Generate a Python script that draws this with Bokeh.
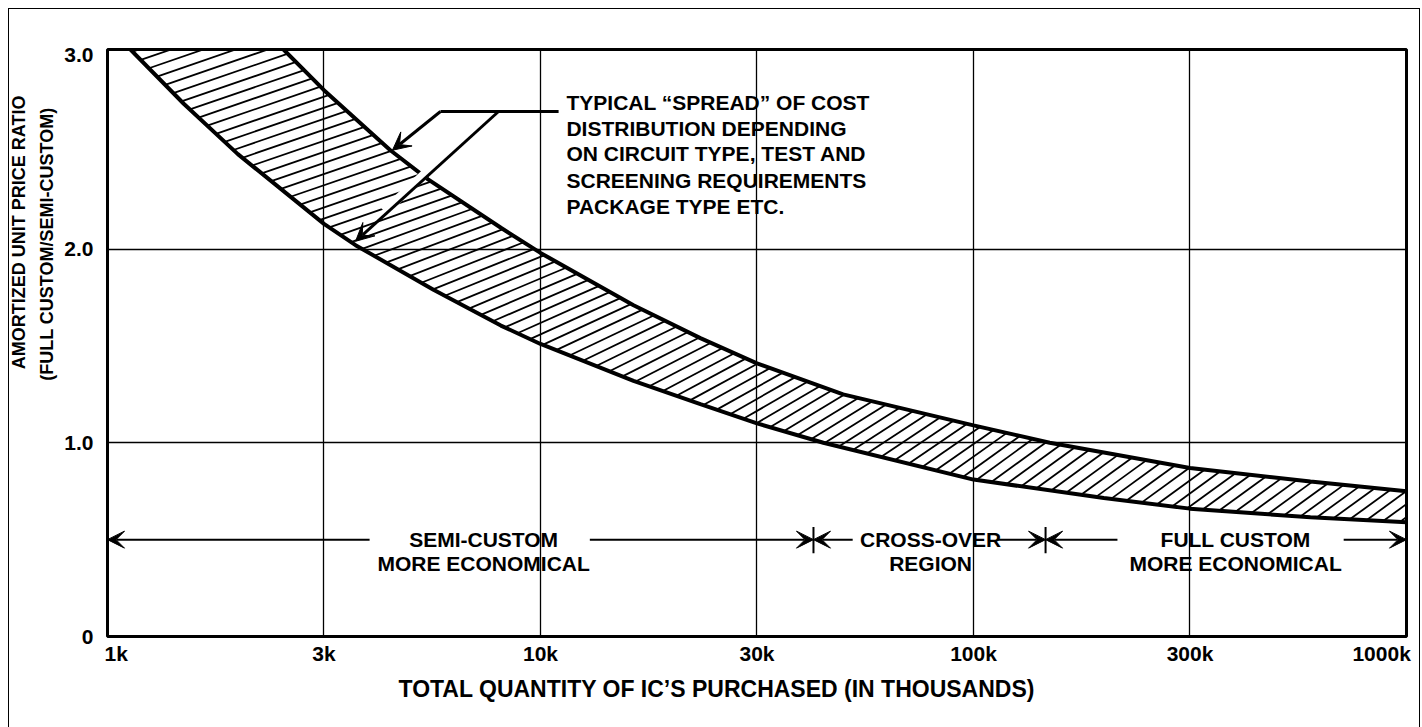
import math
import numpy as np
from bokeh.plotting import figure
from bokeh.models import Range1d, FixedTicker, Label, Arrow, VeeHead, Title, InlineStyleSheet
from bokeh.embed import file_html
from bokeh.resources import INLINE

# ---------------- data (x in thousands of ICs, y = price ratio) ----------------
upper_x = [2.55, 3.162, 4.5, 5.5, 8.1, 10, 16.4, 23.4, 31.62, 50, 100, 150, 316.2, 600, 1000]
upper_y = [3.03, 2.82, 2.51, 2.36, 2.11, 1.98, 1.71, 1.54, 1.41, 1.25, 1.09, 1.00, 0.87, 0.80, 0.75]

lower_x = [1.13, 1.5, 2.0, 3.162, 3.74, 5.66, 8.1, 10, 16.4, 23.4, 31.62, 45, 100, 200, 316.2, 600, 1000]
lower_y = [3.03, 2.75, 2.49, 2.13, 2.02, 1.79, 1.605, 1.51, 1.32, 1.20, 1.10, 1.00, 0.81, 0.715, 0.66, 0.615, 0.59]

x_ticks = [1, 3.162, 10, 31.62, 100, 316.2, 1000]
x_tick_labels = ["1k", "3k", "10k", "30k", "100k", "300k", "1000k"]
y_ticks = [0, 1, 2, 3]
y_tick_labels = ["0", "1.0", "2.0", "3.0"]

x_title = "TOTAL QUANTITY OF IC\u2019S PURCHASED (IN THOUSANDS)"
y_title = ["AMORTIZED UNIT PRICE RATIO", "(FULL CUSTOM/SEMI-CUSTOM)"]

note_lines = ["TYPICAL \u201cSPREAD\u201d OF COST",
              "DISTRIBUTION DEPENDING",
              "ON CIRCUIT TYPE, TEST AND",
              "SCREENING REQUIREMENTS",
              "PACKAGE TYPE ETC."]

region_semi = ["SEMI-CUSTOM", "MORE ECONOMICAL"]
region_cross = ["CROSS-OVER", "REGION"]
region_full = ["FULL CUSTOM", "MORE ECONOMICAL"]

# region boundaries (thousands)
cross_start = 42.7
cross_end = 146.7

FONT = "Liberation Sans"
TXT = "21px"
NB = "\u00a0"

X_LO, X_HI, Y_LO, Y_HI = 1, 1000, 0, 3.03
FRAME_W, FRAME_H = 1299, 587

p = figure(width=1422, height=727, x_axis_type="log",
           x_range=Range1d(X_LO, X_HI), y_range=Range1d(Y_LO, Y_HI),
           output_backend="svg", toolbar_location=None,
           min_border_left=107, min_border_right=16,
           min_border_top=49, min_border_bottom=91)
p.stylesheets = [InlineStyleSheet(css=(
    ":host::after {content: ''; position: absolute; left: 8px; top: 8px;"
    " width: 1412px; height: 740px; border: 1.5px solid black;"
    " box-sizing: border-box; pointer-events: none; z-index: 100;}"))]
p.background_fill_color = "white"
p.border_fill_color = "white"
p.outline_line_color = "black"
p.outline_line_width = 3

# axes
for ax in (p.xaxis[0], p.yaxis[0]):
    ax.axis_line_color = None
    ax.major_tick_in = 0
    ax.major_tick_out = 0
    ax.minor_tick_line_color = None
    ax.major_label_text_font = FONT
    ax.major_label_text_font_style = "bold"
    ax.major_label_text_color = "black"
    ax.major_label_text_font_size = "21px"

p.xaxis.ticker = FixedTicker(ticks=x_ticks)
ov = {t: l for t, l in zip(x_ticks, x_tick_labels)}
ov[x_ticks[0]] = NB * 3 + x_tick_labels[0]
ov[x_ticks[-1]] = x_tick_labels[-1] + NB * 2
p.xaxis.major_label_overrides = ov
p.xaxis.major_label_standoff = 5

p.yaxis.ticker = FixedTicker(ticks=y_ticks)
p.yaxis.major_label_overrides = {t: l for t, l in zip(y_ticks, y_tick_labels)}
p.yaxis.major_label_standoff = 14

p.xgrid.ticker = FixedTicker(ticks=x_ticks[1:-1])
p.ygrid.ticker = FixedTicker(ticks=[1, 2])
for g in (p.xgrid[0], p.ygrid[0]):
    g.grid_line_color = "black"
    g.grid_line_width = 1.3

# axis titles
p.add_layout(Title(text=x_title, align="left", offset=291, standoff=12,
                   text_font=FONT, text_font_style="bold", text_font_size="23px",
                   text_color="black"), "below")
p.add_layout(Title(text=y_title[1], align="right", offset=58, standoff=10,
                   text_font=FONT, text_font_style="bold", text_font_size="18px",
                   text_color="black"), "left")
p.add_layout(Title(text=y_title[0], align="right", offset=46, standoff=2,
                   text_font=FONT, text_font_style="bold", text_font_size="18px",
                   text_color="black"), "left")

# ---- hatching of the band (computed in screen-proportional space) ----
sxs = FRAME_W / (math.log10(X_HI) - math.log10(X_LO))
sys_ = FRAME_H / (Y_HI - Y_LO)
lu = (np.log10(lower_x) - math.log10(X_LO)) * sxs
lv = (np.array(lower_y) - Y_LO) * sys_
uu = (np.log10(upper_x) - math.log10(X_LO)) * sxs
uv = (np.array(upper_y) - Y_LO) * sys_
top_px = (Y_HI - Y_LO) * sys_
right_px = FRAME_W

dense = []
for i in range(len(lu) - 1):
    t = np.linspace(0, 1, 60, endpoint=False)
    dense.append(np.column_stack([lu[i] + t * (lu[i + 1] - lu[i]), lv[i] + t * (lv[i + 1] - lv[i])]))
dense.append(np.array([[lu[-1], lv[-1]]]))
dense = np.vstack(dense)
seg = np.diff(dense, axis=0)
seglen = np.hypot(seg[:, 0], seg[:, 1])
cum = np.concatenate([[0], np.cumsum(seglen)])

SPACING = 10.5
ks = np.arange(0, 500, 0.25)
hx0, hy0, hx1, hy1 = [], [], [], []
s = 3.0
while s < cum[-1]:
    j = min(np.searchsorted(cum, s) - 1, len(seg) - 1)
    j = max(j, 0)
    f = (s - cum[j]) / seglen[j]
    px, py = dense[j] + f * seg[j]
    tx, ty = seg[j] / seglen[j]
    th = math.radians(np.interp(px / sxs, [0.5, 2.0], [19.0, 36.0]))
    dx, dy = math.cos(th), math.sin(th)
    qx = px + ks * dx
    qy = py + ks * dy
    bound = np.minimum(np.interp(qx, uu, uv, left=top_px), top_px)
    out = (qy > bound) | (qx > right_px)
    idx = np.argmax(out) if out.any() else len(ks) - 1
    k = ks[max(idx, 1)]
    hx0.append(10 ** (px / sxs + math.log10(X_LO)))
    hy0.append(py / sys_ + Y_LO)
    hx1.append(10 ** ((px + k * dx) / sxs + math.log10(X_LO)))
    hy1.append((py + k * dy) / sys_ + Y_LO)
    sinphi = abs(tx * dy - ty * dx)
    s += SPACING / max(sinphi, 0.3)

p.segment(hx0, hy0, hx1, hy1, line_color="black", line_width=1.8)
p.line(upper_x, upper_y, line_color="black", line_width=4)
p.line(lower_x, lower_y, line_color="black", line_width=4)

# white halo where the second leader crosses the band
p.line([7.41, 4.36], [2.673, 2.194], line_color="white", line_width=9)

def lab(x, y, text, align="center"):
    p.add_layout(Label(x=x, y=y, text=text, text_font=FONT, text_font_style="bold",
                       text_font_size=TXT, text_align=align, text_baseline="middle",
                       text_color="black"))

# note text block
note_y = [2.757, 2.623, 2.494, 2.354, 2.220]
for t, yy in zip(note_lines, note_y):
    lab(11.48, yy, t, align="left")

# leader lines
p.line([11.01, 5.875], [2.71, 2.71], line_color="black", line_width=3)
p.add_layout(Arrow(end=VeeHead(size=18, fill_color="black", line_color="black"),
                   x_start=5.875, y_start=2.71, x_end=4.55, y_end=2.51,
                   line_width=3, line_color="black"))
p.add_layout(Arrow(end=VeeHead(size=18, fill_color="black", line_color="black"),
                   x_start=8.0, y_start=2.71, x_end=3.74, y_end=2.04,
                   line_width=3, line_color="black"))

# region annotations
ya, yb = 0.5, 0.377
def arrow(x0, x1):
    p.add_layout(Arrow(end=VeeHead(size=17, fill_color="black", line_color="black"),
                       x_start=x0, y_start=ya, x_end=x1, y_end=ya,
                       line_width=2, line_color="black"))

arrow(4.03, 1.0)
arrow(13.0, cross_start)
arrow(52.6, cross_start)
arrow(113.6, cross_end)
arrow(215.0, cross_end)
arrow(716.0, 1000.0)
for xc in (cross_start, cross_end):
    p.line([xc, xc], [0.43, 0.565], line_color="black", line_width=2)

lab(7.39, ya, region_semi[0]); lab(7.39, yb, region_semi[1])
lab(79.6, ya, region_cross[0]); lab(79.6, yb, region_cross[1])
lab(403, ya, region_full[0]); lab(403, yb, region_full[1])

open("out.html", "w").write(file_html(p, INLINE))
